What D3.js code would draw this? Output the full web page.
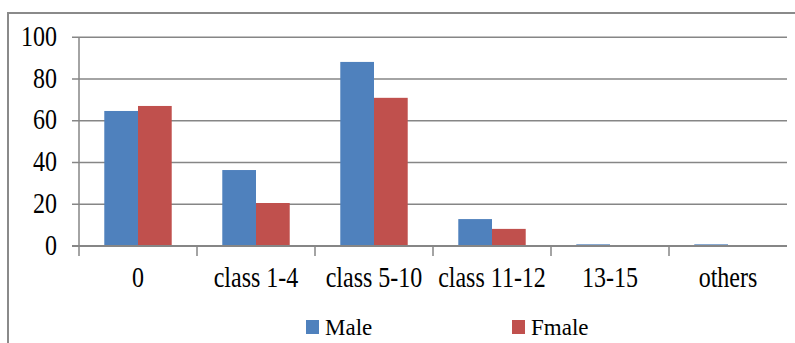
<!DOCTYPE html>
<html>
<head>
<meta charset="utf-8">
<script src="https://cdn.jsdelivr.net/npm/d3@7"></script>
<style>
  html, body { margin: 0; padding: 0; background: #fff; }
  svg { display: block; }
</style>
</head>
<body>
<svg id="chart" width="795" height="343"></svg>
<script>
// Education level by gender
const categories = ["0", "class 1-4", "class 5-10", "class 11-12", "13-15", "others"];
const seriesNames = ["Male", "Fmale"];
const maleValues = [64.7, 36.4, 88.2, 12.9, 0.8, 0.8];
const femaleValues = [67.1, 20.6, 71, 8.2, 0, 0];
const yTicks = [0, 20, 40, 60, 80, 100];
const colors = ["#4F81BD", "#C0504D"];

const FONT = "'Liberation Serif', 'Times New Roman', serif";
const svg = d3.select("#chart");
const W = 795, H = 343;
const plot = { left: 79, right: 787, top: 37.3, bottom: 246 };

// chart frame
svg.append("rect")
  .attr("x", 8).attr("y", 13)
  .attr("width", W + 10).attr("height", H + 10)
  .attr("fill", "#fff")
  .attr("stroke", "#8a8a8a").attr("stroke-width", 2);

const x0 = d3.scaleBand().domain(categories).range([plot.left, plot.right]).padding(0);
const x1 = d3.scaleBand().domain(seriesNames).range([0, x0.bandwidth()])
  .paddingInner(0).paddingOuter(0.75);
const y = d3.scaleLinear().domain([0, 100]).range([plot.bottom, plot.top]);

// horizontal gridlines with outside ticks
svg.append("g").selectAll("line").data(yTicks).join("line")
  .attr("x1", plot.left - 7).attr("x2", plot.right)
  .attr("y1", d => y(d)).attr("y2", d => y(d))
  .attr("stroke", "#868686").attr("stroke-width", 1.5);

// y tick labels (slightly tall letterforms)
const textScale = 1.2;
svg.append("g").selectAll("text").data(yTicks).join("text")
  .attr("text-anchor", "end")
  .attr("font-family", FONT)
  .attr("font-size", 24)
  .attr("transform", d => `translate(57,${y(d) + 8.5}) scale(1,${textScale})`)
  .text(d => d);

// grouped bars
const rows = categories.map((c, i) => ({ cat: c, vals: [maleValues[i], femaleValues[i]] }));
const groups = svg.append("g").selectAll("g").data(rows).join("g")
  .attr("transform", d => `translate(${x0(d.cat)},0)`);
groups.selectAll("rect")
  .data(d => d.vals.map((v, k) => ({ name: seriesNames[k], v, k })))
  .join("rect")
  .attr("x", d => x1(d.name))
  .attr("width", x1.bandwidth())
  .attr("y", d => y(d.v))
  .attr("height", d => y(0) - y(d.v))
  .attr("fill", d => colors[d.k]);

// y axis line, baseline and category ticks
svg.append("line")
  .attr("x1", plot.left).attr("x2", plot.left)
  .attr("y1", plot.top).attr("y2", plot.bottom + 10)
  .attr("stroke", "#868686").attr("stroke-width", 1.5);
svg.append("line")
  .attr("x1", plot.left - 7).attr("x2", plot.right)
  .attr("y1", y(0)).attr("y2", y(0))
  .attr("stroke", "#868686").attr("stroke-width", 2);
svg.append("g").selectAll("line").data(categories.slice(1)).join("line")
  .attr("x1", d => x0(d)).attr("x2", d => x0(d))
  .attr("y1", plot.bottom).attr("y2", plot.bottom + 10)
  .attr("stroke", "#868686").attr("stroke-width", 1.5);

// category labels
svg.append("g").selectAll("text").data(categories).join("text")
  .attr("text-anchor", "middle")
  .attr("font-family", FONT)
  .attr("font-size", 24)
  .attr("transform", d => `translate(${x0(d) + x0.bandwidth() / 2},287) scale(1,${textScale})`)
  .text(d => d);

// legend along the bottom edge
const legendX = [306, 512];
const legend = svg.append("g").selectAll("g").data(seriesNames).join("g")
  .attr("transform", (d, i) => `translate(${legendX[i]},0)`);
legend.append("rect")
  .attr("x", 0).attr("y", 320).attr("width", 13).attr("height", 14)
  .attr("fill", (d, i) => colors[i]);
legend.append("text")
  .attr("font-family", FONT)
  .attr("font-size", 23)
  .attr("x", 19).attr("y", 335)
  .text(d => d);
</script>
</body>
</html>
